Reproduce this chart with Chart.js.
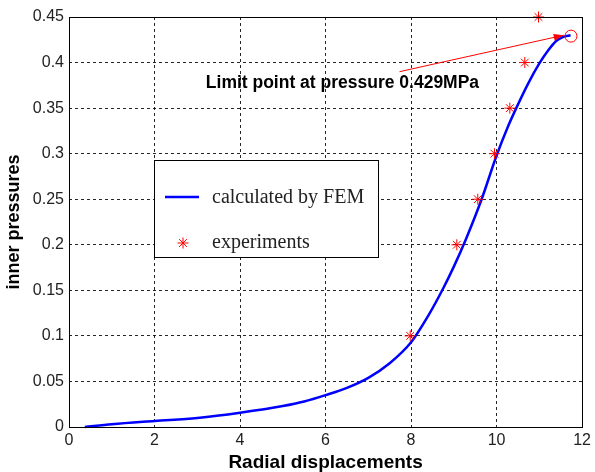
<!DOCTYPE html>
<html>
<head>
<meta charset="utf-8">
<script src="https://cdn.jsdelivr.net/npm/chart.js@4/dist/chart.umd.min.js"></script>
<style>
html,body{margin:0;padding:0;background:#fff;}
#wrap{width:595px;height:472px;position:relative;}
</style>
</head>
<body>
<div id="wrap"><canvas id="c" width="595" height="472"></canvas></div>
<script>
// ---- data ----
const femX = [0.37, 1, 2, 3, 4, 5, 5.5, 6, 6.5, 7, 7.5, 8, 8.4, 8.75, 9.0, 9.29, 9.65, 10.0, 10.25, 10.49, 10.75, 11.0, 11.2, 11.4, 11.55, 11.73];
const femY = [0, 0.003, 0.0066, 0.010, 0.0157, 0.023, 0.028, 0.035, 0.043, 0.054, 0.07, 0.093, 0.122, 0.152, 0.176, 0.207, 0.25, 0.298, 0.328, 0.353, 0.378, 0.399, 0.413, 0.424, 0.428, 0.43];
const expX = [7.98, 9.07, 9.56, 9.95, 10.31, 10.66, 10.98];
const expY = [0.10, 0.20, 0.25, 0.30, 0.35, 0.40, 0.45];
const limitX = [11.74];
const limitY = [0.429];
const arrowTailX = 7.73, arrowTailY = 0.390;
const arrowHeadX = 11.57, arrowHeadY = 0.430;
const annotText = 'Limit point at pressure 0.429MPa';
const annotX = 3.2, annotY = 0.372;
const xTicks = [0, 2, 4, 6, 8, 10, 12];
const yTicks = [0, 0.05, 0.1, 0.15, 0.2, 0.25, 0.3, 0.35, 0.4, 0.45];
const seriesNames = ['calculated by FEM', 'experiments'];
const xTitle = 'Radial displacements';
const yTitle = 'inner pressures';

const zip = (xs, ys) => xs.map((x, i) => ({x, y: ys[i]}));

const overlay = {
  id: 'overlay',
  afterDatasetsDraw(chart) {
    const {ctx, chartArea: a, scales: {x, y}} = chart;
    ctx.save();
    // plot frame
    ctx.strokeStyle = '#000';
    ctx.lineWidth = 1;
    ctx.setLineDash([]);
    ctx.strokeRect(Math.round(a.left) + 0.5, Math.round(a.top) + 0.5, Math.round(a.right - a.left), Math.round(a.bottom - a.top));
    // arrow
    const tx = x.getPixelForValue(arrowTailX), ty = y.getPixelForValue(arrowTailY);
    const hx = x.getPixelForValue(arrowHeadX), hy = y.getPixelForValue(arrowHeadY);
    ctx.strokeStyle = '#ff0000';
    ctx.fillStyle = '#ff0000';
    ctx.lineWidth = 1;
    ctx.beginPath(); ctx.moveTo(tx, ty); ctx.lineTo(hx, hy); ctx.stroke();
    const ang = Math.atan2(hy - ty, hx - tx);
    const L = 10, W = 3.5;
    ctx.beginPath();
    ctx.moveTo(hx, hy);
    ctx.lineTo(hx - L * Math.cos(ang) + W * Math.sin(ang), hy - L * Math.sin(ang) - W * Math.cos(ang));
    ctx.lineTo(hx - L * Math.cos(ang) - W * Math.sin(ang), hy - L * Math.sin(ang) + W * Math.cos(ang));
    ctx.closePath(); ctx.fill();
    // annotation text
    ctx.fillStyle = '#000';
    ctx.font = 'bold 17.5px "Liberation Sans", Arial, sans-serif';
    ctx.textBaseline = 'alphabetic';
    ctx.textAlign = 'left';
    ctx.fillText(annotText, x.getPixelForValue(annotX), y.getPixelForValue(annotY));
    // legend box
    const bx = a.left + 85, by = a.top + 143, bw = 224, bh = 97;
    ctx.fillStyle = '#fff';
    ctx.fillRect(bx, by, bw, bh);
    ctx.strokeStyle = '#000';
    ctx.strokeRect(bx + 0.5, by + 0.5, bw, bh);
    const ds0 = chart.data.datasets[0], ds1 = chart.data.datasets[1];
    ctx.strokeStyle = ds0.borderColor;
    ctx.lineWidth = ds0.borderWidth;
    ctx.beginPath(); ctx.moveTo(bx + 11, by + 37); ctx.lineTo(bx + 45, by + 37); ctx.stroke();
    ctx.strokeStyle = ds1.borderColor;
    ctx.fillStyle = ds1.backgroundColor;
    ctx.lineWidth = ds1.borderWidth;
    Chart.helpers.drawPoint(ctx, {pointStyle: ds1.pointStyle, radius: ds1.pointRadius, borderWidth: ds1.borderWidth}, bx + 29, by + 83);
    ctx.fillStyle = '#222';
    ctx.font = '20px "Liberation Serif", "Times New Roman", serif';
    ctx.fillText(seriesNames[0], bx + 58, by + 43);
    ctx.fillText(seriesNames[1], bx + 58, by + 88);
    ctx.restore();
  }
};

new Chart(document.getElementById('c'), {
  type: 'scatter',
  data: {
    datasets: [
      {
        label: seriesNames[0],
        data: zip(femX, femY),
        showLine: true,
        borderColor: '#0000ff',
        backgroundColor: '#0000ff',
        borderWidth: 2.5,
        pointRadius: 0,
        cubicInterpolationMode: 'monotone',
        clip: false,
        order: 2
      },
      {
        label: seriesNames[1],
        data: zip(expX, expY),
        showLine: false,
        pointStyle: 'star',
        pointRadius: 5.5,
        borderColor: '#ff0000',
        backgroundColor: '#ff0000',
        borderWidth: 1,
        clip: false,
        order: 1
      },
      {
        label: 'limit',
        data: zip(limitX, limitY),
        showLine: false,
        pointStyle: 'circle',
        pointRadius: 6,
        borderColor: '#ff0000',
        backgroundColor: 'rgba(0,0,0,0)',
        borderWidth: 1,
        clip: false,
        order: 0
      }
    ]
  },
  options: {
    responsive: false,
    animation: false,
    events: [],
    layout: {padding: {top: 17, right: 7, left: 0, bottom: 0}},
    plugins: {legend: {display: false}, tooltip: {enabled: false}},
    scales: {
      x: {
        type: 'linear',
        min: 0, max: 12,
        afterBuildTicks(s) { s.ticks = xTicks.map(v => ({value: v})); },
        afterFit(s) { s.height = 45; },
        grid: {color: 'rgba(0,0,0,0.85)', lineWidth: 1, drawTicks: false},
        border: {display: false, dash: [3, 3]},
        ticks: {
          color: '#222', padding: 4,
          font: {family: '"Liberation Sans", Arial, sans-serif', size: 16},
          callback: v => String(v)
        },
        title: {
          display: true, text: xTitle, color: '#000',
          font: {family: '"Liberation Sans", Arial, sans-serif', size: 19, weight: 'bold', lineHeight: 1},
          padding: {top: 0, bottom: 0}
        }
      },
      y: {
        type: 'linear',
        min: 0, max: 0.45,
        afterBuildTicks(s) { s.ticks = yTicks.map(v => ({value: v})); },
        afterFit(s) { s.width = 69; },
        grid: {color: 'rgba(0,0,0,0.85)', lineWidth: 1, drawTicks: false},
        border: {display: false, dash: [3, 3]},
        ticks: {
          color: '#222', padding: 5,
          font: {family: '"Liberation Sans", Arial, sans-serif', size: 16},
          callback: v => String(+Number(v).toFixed(2))
        },
        title: {
          display: true, text: yTitle, color: '#000',
          font: {family: '"Liberation Sans", Arial, sans-serif', size: 18, weight: 'bold'},
          padding: {top: 3, bottom: 0}
        }
      }
    }
  },
  plugins: [overlay]
});
</script>
</body>
</html>
